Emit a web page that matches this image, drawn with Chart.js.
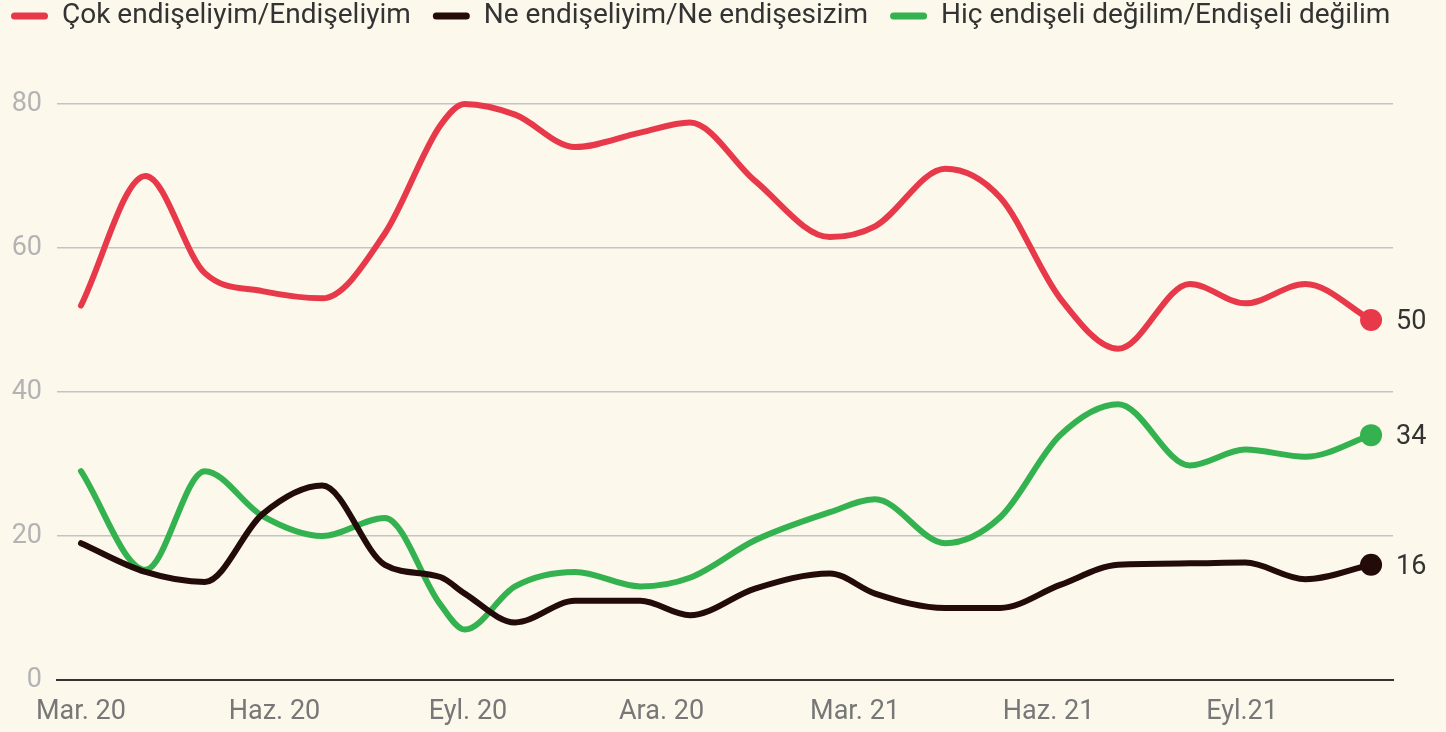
<!DOCTYPE html>
<html>
<head>
<meta charset="utf-8">
<script src="https://cdn.jsdelivr.net/npm/chart.js@4.4.0/dist/chart.umd.min.js"></script>
<style>
  html, body { margin: 0; padding: 0; background: #fcf8ec; overflow: hidden; }
  #wrap { position: absolute; left: -11px; top: -20px; width: 1457px; height: 752px; }
</style>
</head>
<body>
<div id="wrap"><canvas id="chart"></canvas></div>
<script>
// survey dates as months since March 2020
const months = [0, 1.0, 1.92, 2.81, 3.74, 4.71, 5.57, 5.95, 6.73, 7.66, 8.67, 9.44,
  10.45, 11.61, 12.31, 13.40, 14.25, 15.18, 16.08, 17.19, 18.05, 18.98, 20];

const worried = [52, 70, 56.5, 54, 53, 62, 77, 80, 78.5, 74, 76, 77.4,
  69.3, 61.5, 63, 71, 67, 53, 46, 55, 52.3, 55, 50];
const neutral = [19, 15, 13.6, 23, 27, 16, 14.3, 12, 8, 11, 11, 9,
  12.7, 14.8, 12, 10, 10, 13.2, 16, 16.2, 16.3, 14, 16];
const notWorried = [29, 15.3, 29, 22.8, 20, 22.5, 10.5, 7, 13, 15, 13, 14.2,
  19.4, 23.3, 25.1, 19, 22.6, 34, 38.3, 29.8, 32, 31, 34];

const tickMonths = [0, 3, 6, 9, 12, 15, 18];
const tickLabels = ['Mar. 20', 'Haz. 20', 'Eyl. 20', 'Ara. 20', 'Mar. 21', 'Haz. 21', 'Eyl.21'];
const yTicks = [0, 20, 40, 60, 80];
const yMax = 88.87;

const RED = '#e8394b', DARK = '#220b09', GREEN = '#33b24f';
const FONT = 'Roboto';

const toPoints = arr => arr.map((v, i) => ({ x: months[i], y: v }));

function series(label, values, color) {
  return {
    label: label,
    data: toPoints(values),
    borderColor: color,
    backgroundColor: color,
    borderWidth: 6,
    borderCapStyle: 'round',
    borderJoinStyle: 'round',
    cubicInterpolationMode: 'monotone',
    pointRadius: ctx => ctx.dataIndex === values.length - 1 ? 11 : 0,
    pointBackgroundColor: color,
    pointBorderWidth: 0,
    clip: false
  };
}

// value labels right of the last point of every line
const endLabels = {
  id: 'endLabels',
  afterDatasetsDraw(chart) {
    const ctx = chart.ctx;
    chart.data.datasets.forEach((ds, i) => {
      const meta = chart.getDatasetMeta(i);
      const last = meta.data[meta.data.length - 1];
      ctx.save();
      ctx.font = '27px ' + FONT;
      ctx.fillStyle = '#333333';
      ctx.textAlign = 'left';
      ctx.textBaseline = 'middle';
      ctx.fillText(String(ds.data[ds.data.length - 1].y), last.x + 25, last.y + 2);
      ctx.restore();
    });
  }
};

const ctx = document.getElementById('chart').getContext('2d');
const myChart = new Chart(ctx, {
  type: 'line',
  data: {
    datasets: [
      series('Çok endişeliyim/Endişeliyim', worried, RED),
      series('Ne endişeliyim/Ne endişesizim', neutral, DARK),
      series('Hiç endişeli değilim/Endişeli değilim', notWorried, GREEN)
    ]
  },
  options: {
    responsive: true,
    maintainAspectRatio: false,
    animation: false,
    events: [],
    plugins: {
      tooltip: { enabled: false },
      legend: {
        position: 'top',
        align: 'start',
        labels: {
          font: { family: FONT, size: 28 },
          color: '#333333',
          boxWidth: 37,
          boxHeight: 7,
          padding: 22,
          useBorderRadius: true,
          borderRadius: 3.5,
          generateLabels: chart => Chart.defaults.plugins.legend.labels.generateLabels(chart)
            .map(item => ({ ...item, lineWidth: 0 }))
        }
      }
    },
    scales: {
      x: {
        type: 'linear',
        min: -0.372,
        max: 20.34,
        afterBuildTicks: scale => { scale.ticks = tickMonths.map(v => ({ value: v })); },
        afterFit: scale => { scale.height = 52; },
        grid: { display: false, drawTicks: false },
        border: { display: true, color: '#333333', width: 2 },
        ticks: {
          autoSkip: false,
          maxRotation: 0,
          padding: 16,
          color: '#777777',
          font: { family: FONT, size: 27 },
          callback: (value, index) => tickLabels[index]
        }
      },
      y: {
        min: 0,
        max: yMax,
        afterBuildTicks: scale => { scale.ticks = yTicks.map(v => ({ value: v })); },
        afterFit: scale => { scale.width = 68; },
        grid: { color: '#c4c4c4', lineWidth: 1.5, drawTicks: false },
        border: { display: false },
        ticks: {
          padding: 15,
          color: '#b3b3b3',
          font: { family: FONT, size: 27 }
        }
      },
      // empty right-hand strip that leaves room for the end labels
      yRight: {
        position: 'right',
        min: 0,
        max: yMax,
        afterFit: scale => { scale.width = 53; },
        grid: { display: false, drawTicks: false },
        border: { display: false },
        ticks: { display: false }
      }
    }
  },
  plugins: [endLabels]
});
</script>
</body>
</html>
